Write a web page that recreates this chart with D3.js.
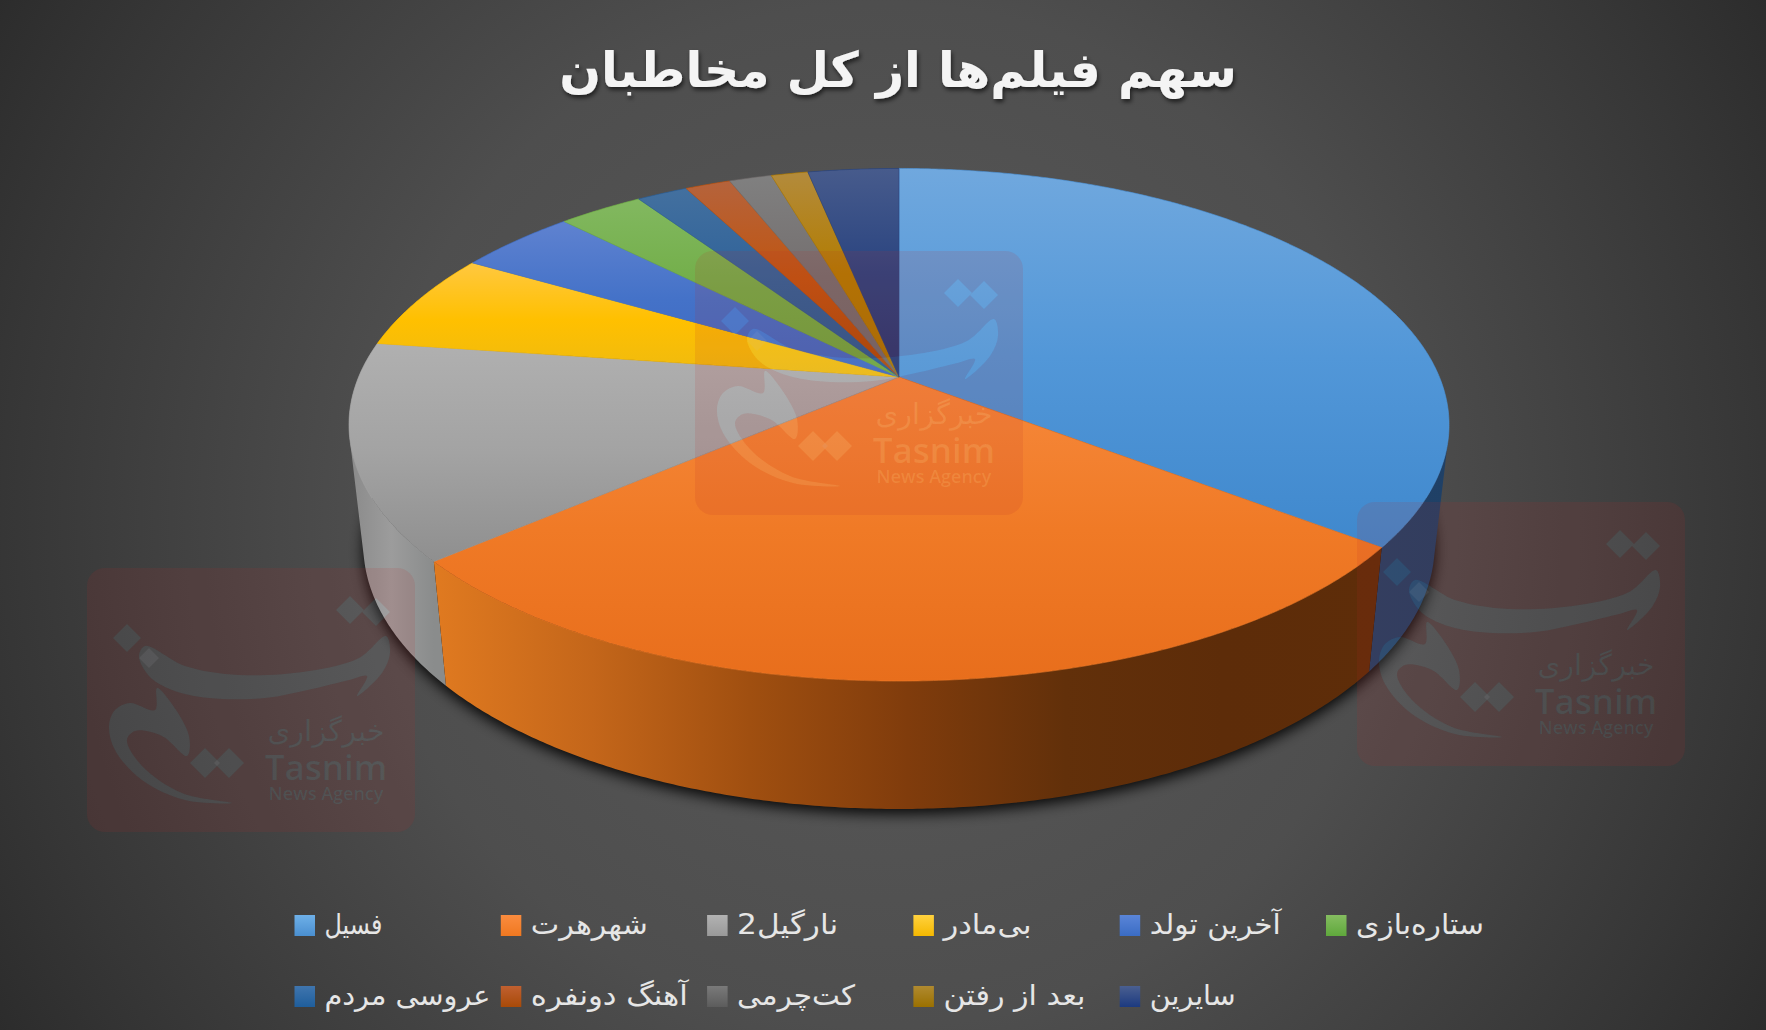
<!DOCTYPE html>
<html lang="fa">
<head>
<meta charset="utf-8">
<script src="https://cdnjs.cloudflare.com/ajax/libs/d3/7.8.5/d3.min.js"></script>
<style>
html,body{margin:0;padding:0;background:#333;overflow:hidden}
svg{display:block}
text{font-family:"DejaVu Sans","Noto Sans",sans-serif}
</style>
</head>
<body>
<svg id="c" width="1766" height="1030"></svg>
<script>
const titleText = "سهم فیلم‌ها از کل مخاطبان";
const categories = ["فسیل","شهرهرت","نارگیل2","بی‌مادر","آخرین تولد","ستاره‌بازی","عروسی مردم","آهنگ دونفره","کت‌چرمی","بعد از رفتن","سایرین"];
const shares = [35.5,28.2,13.6,6.2,4.2,3.0,1.8,1.6,1.5,1.3,3.2];
const faceTop = ["#70a8de","#f6893c","#b0b0b0","#ffc840","#5f82d0","#82b860","#43709f","#b5633c","#808080","#b38b3c","#475b8c"];
const faceMid = ["#5297d8","#f07a26","#a3a3a3","#ffc000","#4472c8","#72ae48","#2f6299","#c05510","#746f6f","#b27c00","#2a4480"];
const faceEnd = ["#3f88cd","#e86e1c","#8f8f8f","#eeba10","#3e68c0","#6ca53c","#265a90","#a84a08","#6e6a6a","#a87400","#26366f"];
const wallStops = [["#2c4870","#1f4066"],["#e07a20","#c4661a","#a04f10","#803c0c","#62300a","#5d2c09","#5e2d09"],["#8a8a8a","#9c9c9c","#8a8c8c"],["#b08600"],["#2f4f8c"],["#4d7a30"],["#1a4266"],["#6e3209"],["#454545"],["#6a5000"],["#1a2f54"]];
const legendTop = ["#6eb0e8","#fa8c3f","#b2b2b2","#ffd23f","#5a85d8","#85bd60","#3f75ae","#c06030","#7a7a7a","#b08a30","#4a5f90"];
const legendEnd = ["#4a8fd0","#f07820","#999999","#f5b800","#3a6cc4","#5fa83c","#1f5e9c","#a84a08","#5c5c5c","#9a7000","#1c3a80"];
const legendFit = [58,117,101,88,131,128,166,157,118,142,86];

const W = 1766, H = 1030;
const svg = d3.select("#c");
const defs = svg.append("defs");

// Background
const bg = defs.append("radialGradient").attr("id","bg").attr("gradientUnits","userSpaceOnUse")
  .attr("cx",W/2).attr("cy",H/2).attr("r",1024);
[[0,"#5a5a5a"],[.5,"#4e4e4e"],[.86,"#363636"],[1,"#2c2c2c"]].forEach(s=>bg.append("stop").attr("offset",s[0]).attr("stop-color",s[1]));
svg.append("rect").attr("width",W).attr("height",H).attr("fill","url(#bg)");

// Perspective projection of the pie's top and bottom discs
const cx = 899, k = 0.1863;
const project = (a, sx, sy, y0) => {
  const X = Math.sin(a), Y = -Math.cos(a), w = 1 - k*Y;
  return [cx + sx*X/w, y0 + sy*Y/w];
};
const topPt = a => project(a, 540.4, 247.4, 377);
const botPt = a => project(a, 526.3, 255, 495.6);
const arcAngles = (a0,a1) => {
  const n = Math.max(2, Math.ceil((a1-a0)/0.008));
  return d3.range(n+1).map(i => a0 + (a1-a0)*i/n);
};
const line = d3.line();
const slices = d3.pie().sort(null).value(d=>d)(shares);

// The wall of a slice is the union of small quads, all wound the same way,
// so it also fills the silhouette between the two discs.
const wallPath = (a0,a1) => {
  const as = arcAngles(a0,a1);
  return d3.pairs(as).map(([p,q])=>{
    let quad = [topPt(p),topPt(q),botPt(q),botPt(p)];
    if (d3.polygonArea(quad) < 0) quad = quad.reverse();
    return line(quad)+"Z";
  }).join("");
};

// Shadow: cast by the bottom disc only
const shadow = defs.append("filter").attr("id","sh").attr("x","-10%").attr("y","-10%").attr("width","120%").attr("height","120%");
shadow.append("feGaussianBlur").attr("stdDeviation",7);
svg.append("path").attr("d", line(arcAngles(0,2*Math.PI).map(botPt))+"Z").attr("fill","#000").attr("opacity",.9)
  .attr("transform","translate(0,5)").attr("filter","url(#sh)");

// Walls (back to front)
slices.forEach((s,i)=>{
  const g = defs.append("linearGradient").attr("id","wall"+i).attr("gradientUnits","userSpaceOnUse");
  const xs = d3.extent(arcAngles(s.startAngle,s.endAngle).map(a=>topPt(a)[0]));
  g.attr("x1",xs[0]).attr("x2",xs[1]).attr("y1",0).attr("y2",0);
  const st = wallStops[i];
  st.forEach((c,j)=>g.append("stop").attr("offset",st.length>1?j/(st.length-1):0).attr("stop-color",c));
});
const wallOrder = d3.range(slices.length).sort((p,q)=>{
  const m = s=>-Math.cos((s.startAngle+s.endAngle)/2);
  return m(slices[p])-m(slices[q]);
});
svg.append("g").selectAll("path").data(wallOrder).join("path")
  .attr("d",i=>wallPath(slices[i].startAngle,slices[i].endAngle))
  .attr("fill",i=>`url(#wall${i})`);

// Top face
slices.forEach((s,i)=>{
  const g = defs.append("linearGradient").attr("id","face"+i).attr("x1",0).attr("x2",0).attr("y1",0).attr("y2",1);
  [[0,faceTop[i]],[.5,faceMid[i]],[1,faceEnd[i]]].forEach(t=>g.append("stop").attr("offset",t[0]).attr("stop-color",t[1]));
});
svg.append("g").selectAll("path").data(slices).join("path")
  .attr("d",s=>line([[cx,377]].concat(arcAngles(s.startAngle,s.endAngle).map(topPt)))+"Z")
  .attr("fill",(s,i)=>`url(#face${i})`)
  .attr("stroke",(s,i)=>faceMid[i]).attr("stroke-width",.6).attr("stroke-linejoin","round");

// Watermark logo (defined once, reused three times)
const cl = d3.line().curve(d3.curveCatmullRomClosed.alpha(.5));
const dia = (x,y,r)=>`M${x-r},${y}L${x},${y-r}L${x+r},${y}L${x},${y+r}Z`;
const logo = defs.append("g").attr("id","logo");
[[263,42,14],[289,44,14],[40,70,14],[62,90,10],[118,195,15],[142,195,15]].forEach(d=>logo.append("path").attr("d",dia(...d)));
logo.append("path").attr("d",cl([[299,68],[303,85],[295,105],[270,128],[280,108],[262,112],[225,121],[178,130],[122,130],[85,122],[62,108],[52,88],[58,78],[98,98],[152,107],[222,103],[272,90]]));
logo.append("path").attr("d",cl([[70,120],[82,132],[102,168],[100,188],[75,168],[48,163],[40,172],[55,198],[95,225],[145,235],[98,232],[55,212],[28,182],[22,158],[28,142],[43,135],[68,142]]));
logo.append("text").text("خبرگزاری").attr("x",239).attr("y",173).attr("text-anchor","middle").attr("font-size",29);
logo.append("text").text("Tasnim").attr("x",239).attr("y",212).attr("text-anchor","middle").attr("font-size",35).attr("font-weight","600").style("font-family","'Open Sans'");
logo.append("text").text("News Agency").attr("x",239).attr("y",232).attr("text-anchor","middle").attr("font-size",18).attr("font-weight","600").style("font-family","'Open Sans'");
const mask = defs.append("mask").attr("id","wm").attr("maskUnits","userSpaceOnUse").attr("x",0).attr("y",0).attr("width",330).attr("height",266);
mask.append("rect").attr("width",330).attr("height",266).attr("fill","#fff");
mask.append("use").attr("href","#logo").attr("fill","#000");
const marks = [[695,251],[87,568],[1357,502]];
const wm = svg.append("g").selectAll("g").data(marks).join("g").attr("transform",d=>`translate(${d[0]},${d[1]})`);
wm.append("rect").attr("width",328).attr("height",264).attr("rx",18).attr("fill","rgb(190,40,40)").attr("fill-opacity",.12).attr("mask","url(#wm)");
wm.append("use").attr("href","#logo").attr("fill","rgb(200,205,215)").attr("fill-opacity",.09);

// Title
const ts = defs.append("filter").attr("id","ts").attr("x","-5%").attr("y","-20%").attr("width","110%").attr("height","150%");
ts.append("feDropShadow").attr("dx",1.5).attr("dy",3).attr("stdDeviation",2).attr("flood-color","#000").attr("flood-opacity",.6);
svg.append("text").text(titleText).attr("x",898).attr("y",87).attr("text-anchor","middle")
  .style("direction","rtl").attr("font-size",49).attr("font-weight","bold").attr("fill","#f4f4f4").attr("filter","url(#ts)");

// Legend
const colX = d3.scalePoint().domain(d3.range(6)).range([294.5,1326]);
const rowY = d3.scalePoint().domain([0,1]).range([915,986]);
categories.forEach((c,i)=>{
  const g = defs.append("linearGradient").attr("id","lg"+i).attr("x1",0).attr("x2",0).attr("y1",0).attr("y2",1);
  g.append("stop").attr("offset",0).attr("stop-color",legendTop[i]);
  g.append("stop").attr("offset",1).attr("stop-color",legendEnd[i]);
});
const li = svg.append("g").selectAll("g").data(categories).join("g")
  .attr("transform",(d,i)=>`translate(${colX(i%6)},${rowY(Math.floor(i/6))})`);
li.append("rect").attr("width",20.5).attr("height",21).attr("fill",(d,i)=>`url(#lg${i})`);
li.append("text").text(d=>d).attr("x",30).attr("y",18.5).attr("text-anchor","end")
  .style("direction","rtl").attr("font-size",28).attr("fill","#e6e6e6")
  .attr("textLength",(d,i)=>legendFit[i]).attr("lengthAdjust","spacingAndGlyphs");
</script>
</body>
</html>
